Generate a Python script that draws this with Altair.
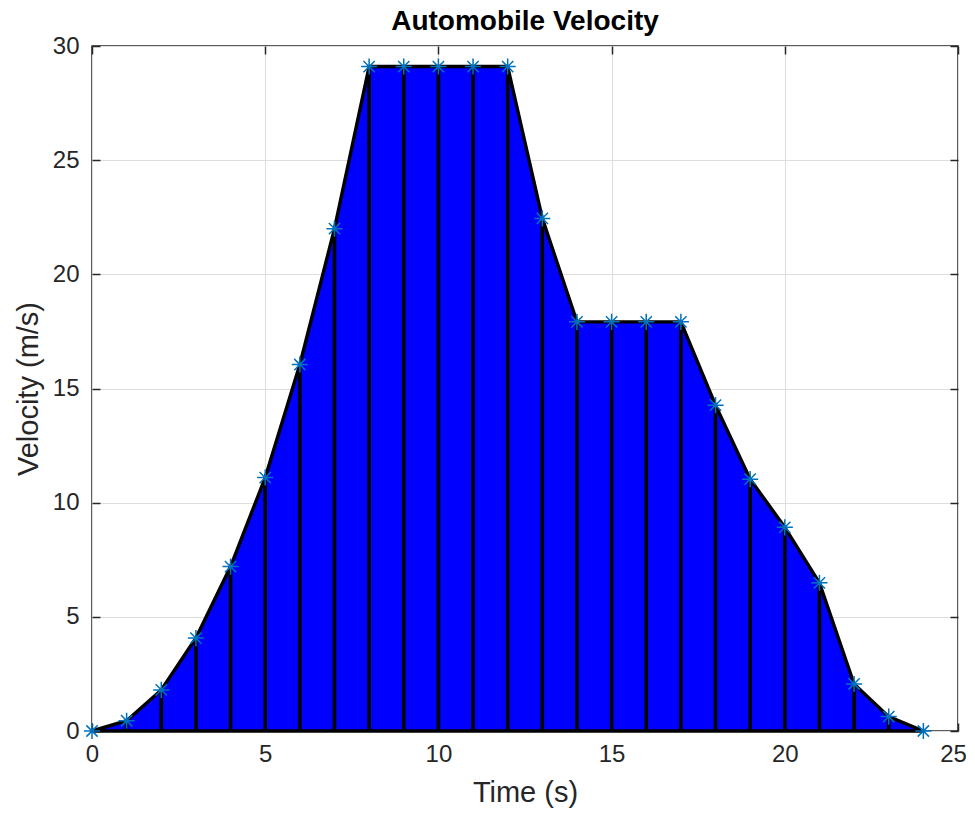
import altair as alt
import pandas as pd

# ---- data ----
time_s = list(range(25))
velocity = [0.0, 0.45, 1.8, 4.07, 7.2, 11.1, 16.05, 22.0, 29.1, 29.1, 29.1, 29.1, 29.1,
            22.45, 17.92, 17.92, 17.92, 17.92, 14.27, 11.03, 8.92, 6.49, 2.06, 0.63, 0.0]
x_ticks = [0, 5, 10, 15, 20, 25]
y_ticks = [0, 5, 10, 15, 20, 25, 30]

df = pd.DataFrame({"t": time_s, "v": velocity})

FONT = "Liberation Sans"
AX = "#262626"
GRID = "#dedede"

xs = alt.Scale(domain=[0, 25], nice=False, zero=False)
ys = alt.Scale(domain=[0, 30], nice=False)

# main axes: labels + grid
main_x = alt.Axis(values=x_ticks, title="Time (s)", grid=True, gridColor=GRID, gridWidth=1,
                  ticks=False, tickSize=0, domain=False, labelFont=FONT, labelFontSize=24,
                  labelColor=AX, labelPadding=11, labelFlush=False,
                  labelOffset={"condition": {"test": "datum.value == 25", "value": -5}, "value": 0},
                  titleFont=FONT, titleFontSize=29, titleFontWeight="normal", titleColor=AX,
                  titlePadding=12)
main_y = alt.Axis(values=y_ticks, title="Velocity (m/s)", grid=True, gridColor=GRID, gridWidth=1,
                  ticks=False, tickSize=0, domain=False, labelFont=FONT, labelFontSize=24,
                  labelColor=AX, labelPadding=13, labelFlush=False, titleFont=FONT,
                  titleFontSize=29, titleFontWeight="normal", titleColor=AX, titlePadding=9)


def tick_axis(orient, values):
    return alt.Axis(orient=orient, values=values, labels=False, title=None, grid=False,
                    domain=False, ticks=True, tickSize=8, tickColor=AX, tickWidth=1.5,
                    offset=-8)


area = alt.Chart(df).mark_area(color="#0000FF", stroke="black", strokeWidth=3.4,
                               strokeJoin="round").encode(
    x=alt.X("t:Q", scale=xs, axis=main_x),
    y=alt.Y("v:Q", scale=ys, axis=main_y),
)

rules = alt.Chart(df).mark_rule(color="black", strokeWidth=3.6).encode(
    x=alt.X("t:Q", scale=xs, axis=tick_axis("bottom", x_ticks)),
    y=alt.Y("v:Q", scale=ys, axis=tick_axis("left", y_ticks)),
    y2=alt.datum(0),
)

asterisk = "M0,-1L0,1M-1,0L1,0M-0.7,-0.7L0.7,0.7M-0.7,0.7L0.7,-0.7"
points = alt.Chart(df).mark_point(shape=asterisk, filled=False, color="#0072BD",
                                  strokeWidth=1.5, size=260, opacity=1).encode(
    x=alt.X("t:Q", scale=xs, axis=tick_axis("top", x_ticks)),
    y=alt.Y("v:Q", scale=ys, axis=tick_axis("right", y_ticks)),
)

chart = alt.layer(area, rules, points).resolve_axis(
    x="independent", y="independent"
).properties(
    width=866,
    height=685,
    title=alt.TitleParams("Automobile Velocity", font=FONT, fontSize=28, fontWeight="bold",
                          color="black", anchor="middle", frame="group", offset=-2),
    autosize=alt.AutoSizeParams(type="none"),
    padding={"left": 84, "top": 38, "right": 8, "bottom": 77},
).configure_view(
    stroke=AX, strokeWidth=1.5
)

chart.save("out.html", embed_options={"renderer": "svg", "actions": False})
